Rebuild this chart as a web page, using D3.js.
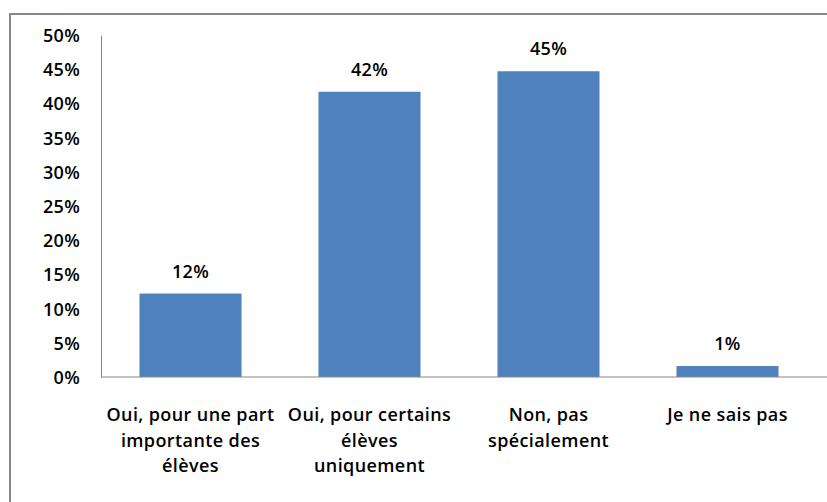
<!DOCTYPE html>
<html>
<head>
<meta charset="utf-8">
<script src="https://cdn.jsdelivr.net/npm/d3@7"></script>
<style>
  body { margin: 0; background: #fff; }
  text { font-family: "Open Sans", sans-serif; fill: #000; }
  .tick text { font-size: 18px; font-weight: 600; letter-spacing: 0.3px; }
  .val { font-size: 18px; font-weight: 600; letter-spacing: 0.3px; }
  .cat { font-size: 18px; font-weight: 600; letter-spacing: 0.4px; }
</style>
</head>
<body>
<div id="chart"></div>
<script>
// data
var categories = [
  ["Oui, pour une part", "importante des", "élèves"],
  ["Oui, pour certains", "élèves", "uniquement"],
  ["Non, pas", "spécialement"],
  ["Je ne sais pas"]
];
var values = [0.122, 0.417, 0.447, 0.016];
var valueLabels = ["12%", "42%", "45%", "1%"];
var yTicks = [0, 0.05, 0.10, 0.15, 0.20, 0.25, 0.30, 0.35, 0.40, 0.45, 0.50];

var W = 827, H = 502;
var margin = {top: 35, right: 10, bottom: 125, left: 101};
var width = 716, height = 377 - margin.top;

var svg = d3.select("#chart").append("svg")
    .attr("width", W)
    .attr("height", H);

// outer chart border
svg.append("rect")
    .attr("x", 10).attr("y", 14)
    .attr("width", 830).attr("height", 500)
    .attr("fill", "none")
    .attr("stroke", "#878787")
    .attr("stroke-width", 2);

var g = svg.append("g")
    .attr("transform", "translate(" + margin.left + "," + margin.top + ")");

var x = d3.scaleBand()
    .domain(d3.range(categories.length))
    .range([0, width])
    .paddingInner(0.43)
    .paddingOuter(0.215);

var y = d3.scaleLinear()
    .domain([0, 0.5])
    .range([height, 0]);

// y axis
var yAxis = g.append("g")
    .call(d3.axisLeft(y).tickValues(yTicks).tickFormat(d3.format(".0%")).tickSize(0).tickPadding(21));
yAxis.select(".domain").attr("stroke", "#868686");
yAxis.selectAll(".tick text").attr("dy", "0.36em");

// bars
g.selectAll(".bar")
    .data(values)
    .enter().append("rect")
    .attr("class", "bar")
    .attr("x", function(d, i) { return x(i); })
    .attr("y", function(d) { return y(d); })
    .attr("width", x.bandwidth())
    .attr("height", function(d) { return height - y(d); })
    .attr("fill", "#4F81BD");

// value labels
g.selectAll(".val")
    .data(values)
    .enter().append("text")
    .attr("class", "val")
    .attr("x", function(d, i) { return x(i) + x.bandwidth() / 2; })
    .attr("y", function(d) { return y(d) - 16; })
    .attr("text-anchor", "middle")
    .text(function(d, i) { return valueLabels[i]; });

// x axis line
g.append("line")
    .attr("x1", 0).attr("x2", W)
    .attr("y1", height).attr("y2", height)
    .attr("stroke", "#868686");

// category labels
var cat = g.selectAll(".cat")
    .data(categories)
    .enter().append("text")
    .attr("class", "cat")
    .attr("text-anchor", "middle")
    .attr("transform", function(d, i) { return "translate(" + (x(i) + x.bandwidth() / 2) + "," + (height + 44) + ")"; });

cat.selectAll("tspan")
    .data(function(d) { return d; })
    .enter().append("tspan")
    .attr("x", 0)
    .attr("dy", function(d, j) { return j === 0 ? 0 : 25.5; })
    .text(function(d) { return d; });
</script>
</body>
</html>
